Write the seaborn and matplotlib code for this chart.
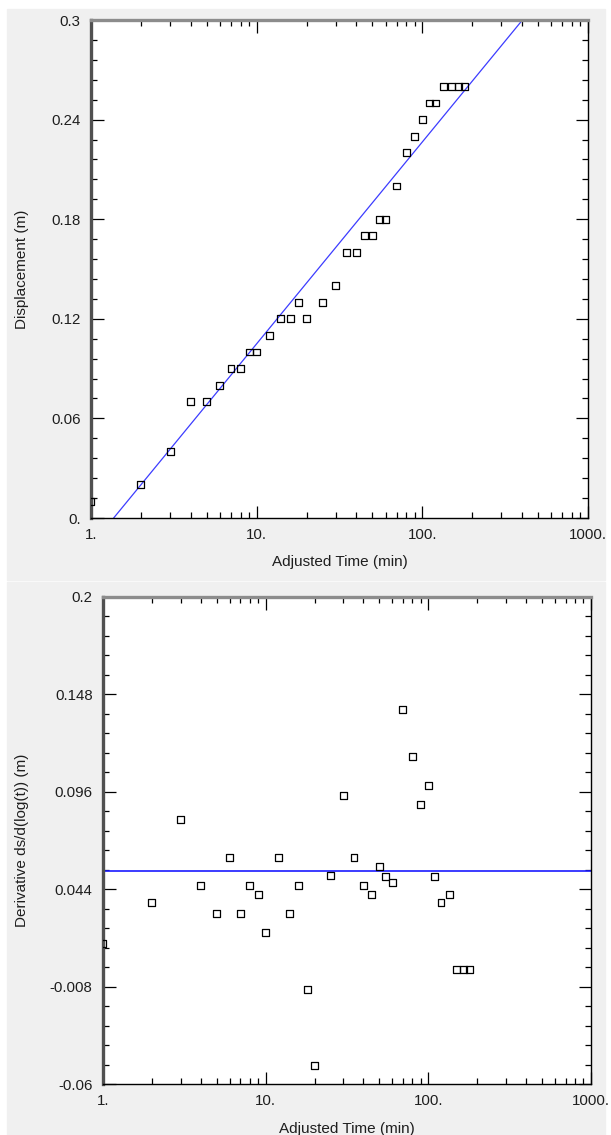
import pandas as pd
import numpy as np
import matplotlib
matplotlib.use("Agg")
import matplotlib.pyplot as plt
import seaborn as sns
from matplotlib.patches import Rectangle
from matplotlib.ticker import FixedLocator, LogLocator, NullFormatter

# === DATA ===
time_min = [1, 2, 3, 4, 5, 6, 7, 8, 9, 10, 12, 14, 16, 18, 20, 25, 30, 35, 40, 45,
            50, 55, 60, 70, 80, 90, 100, 110, 120, 135, 150, 165, 180]
displacement = [0.01, 0.02, 0.04, 0.07, 0.07, 0.08, 0.09, 0.09, 0.10, 0.10, 0.11, 0.12,
                0.12, 0.13, 0.12, 0.13, 0.14, 0.16, 0.16, 0.17, 0.17, 0.18, 0.18, 0.20,
                0.22, 0.23, 0.24, 0.25, 0.25, 0.26, 0.26, 0.26, 0.26]
derivative = [0.015, 0.037, 0.081, 0.046, 0.031, 0.061, 0.031, 0.046, 0.041, 0.021,
              0.061, 0.031, 0.046, -0.0095, -0.050, 0.0515, 0.094, 0.061, 0.046, 0.041,
              0.056, 0.051, 0.0475, 0.140, 0.115, 0.089, 0.0995, 0.051, 0.037, 0.041,
              0.001, 0.001, 0.001]

# straight-line fit, end points
fit_time = [1.37, 402.0]
fit_disp = [0.0, 0.3]
deriv_level = 0.0538

x_ticks = [1, 10, 100, 1000]
x_labels = ['1.', '10.', '100.', '1000.']
top_yticks = [0.0, 0.06, 0.12, 0.18, 0.24, 0.3]
top_ylabels = ['0.', '0.06', '0.12', '0.18', '0.24', '0.3']
bot_yticks = [-0.06, -0.008, 0.044, 0.096, 0.148, 0.2]
bot_ylabels = ['-0.06', '-0.008', '0.044', '0.096', '0.148', '0.2']

df = pd.DataFrame({'t': time_min, 's': displacement, 'd': derivative})
df_fit = pd.DataFrame({'t': fit_time, 's': fit_disp})

# === STYLE ===
sns.set_style('ticks')
plt.rcParams['font.family'] = ['Liberation Sans', 'DejaVu Sans']
TXT = '#1e1e1e'
W, H = 611, 1135

fig = plt.figure(figsize=(W / 100, H / 100), dpi=100, facecolor='white')

# gray window panels behind the axes
fig.patches.append(Rectangle((7 / W, 1 - 580 / H), (605 - 7) / W, (580 - 9) / H,
                             transform=fig.transFigure, color='#f0f0f0', zorder=-10))
fig.patches.append(Rectangle((7 / W, 0), (605 - 7) / W, (1135 - 582) / H,
                             transform=fig.transFigure, color='#f0f0f0', zorder=-10))

ax1 = fig.add_axes([91 / W, 1 - 518 / H, 497 / W, 498 / H])
ax2 = fig.add_axes([103 / W, 1 - 1084 / H, 487.7 / W, 487 / H])


def style_axes(ax, yticks, ylabels, yminor, ylim):
    ax.set_facecolor('white')
    ax.set_xscale('log')
    ax.set_xlim(1, 1000)
    ax.set_ylim(*ylim)
    ax.xaxis.set_major_locator(FixedLocator(x_ticks))
    ax.set_xticklabels(x_labels)
    ax.xaxis.set_minor_locator(LogLocator(base=10, subs=np.arange(2, 10)))
    ax.xaxis.set_minor_formatter(NullFormatter())
    ax.yaxis.set_major_locator(FixedLocator(yticks))
    ax.set_yticklabels(ylabels)
    ax.yaxis.set_minor_locator(FixedLocator(yminor))
    ax.tick_params(which='both', direction='in', top=True, right=True,
                   color='black', width=0.9, labelsize=10.8, labelcolor=TXT)
    ax.tick_params(which='major', length=9)
    ax.tick_params(which='minor', length=4.3)
    ax.tick_params(axis='y', pad=7.5)
    ax.tick_params(axis='x', pad=7)
    ax.spines['left'].set_color('#505050')
    ax.spines['left'].set_linewidth(2.4)
    ax.spines['top'].set_color('#8c8c8c')
    ax.spines['top'].set_linewidth(2.4)
    for side in ['right', 'bottom']:
        ax.spines[side].set_color('black')
        ax.spines[side].set_linewidth(1.0)


# === TOP: displacement vs adjusted time ===
sns.lineplot(data=df_fit, x='t', y='s', color='#3c3cff', linewidth=0.9, ax=ax1, zorder=2)
sns.scatterplot(data=df, x='t', y='s', marker='s', s=25, facecolor='none',
                edgecolor='black', linewidth=0.9, ax=ax1, zorder=3)
style_axes(ax1, top_yticks, top_ylabels, np.linspace(0, 0.3, 26), (0, 0.3))
ax1.set_xlabel('Adjusted Time (min)', fontsize=11, color=TXT)
ax1.set_ylabel('Displacement (m)', fontsize=11, color=TXT)
ax1.xaxis.set_label_coords(0.5, -44 / 498)
ax1.xaxis.label.set_va('center')
ax1.yaxis.set_label_coords((22 - 91) / 497, 0.5)
ax1.yaxis.label.set_va('center')

# === BOTTOM: derivative ===
ax2.axhline(deriv_level, color='#1a1aff', linewidth=1.2, zorder=2)
sns.scatterplot(data=df, x='t', y='d', marker='s', s=25, facecolor='none',
                edgecolor='black', linewidth=0.9, ax=ax2, zorder=3)
style_axes(ax2, bot_yticks, bot_ylabels, np.linspace(-0.06, 0.2, 26), (-0.06, 0.2))
ax2.set_xlabel('Adjusted Time (min)', fontsize=11, color=TXT)
ax2.set_ylabel('Derivative ds/d(log(t)) (m)', fontsize=11, color=TXT)
ax2.xaxis.set_label_coords(0.5, -45.5 / 487)
ax2.xaxis.label.set_va('center')
ax2.yaxis.set_label_coords((22.5 - 103) / 487.7, 0.5)
ax2.yaxis.label.set_va('center')

fig.savefig('out.png', dpi=100, facecolor=fig.get_facecolor())
